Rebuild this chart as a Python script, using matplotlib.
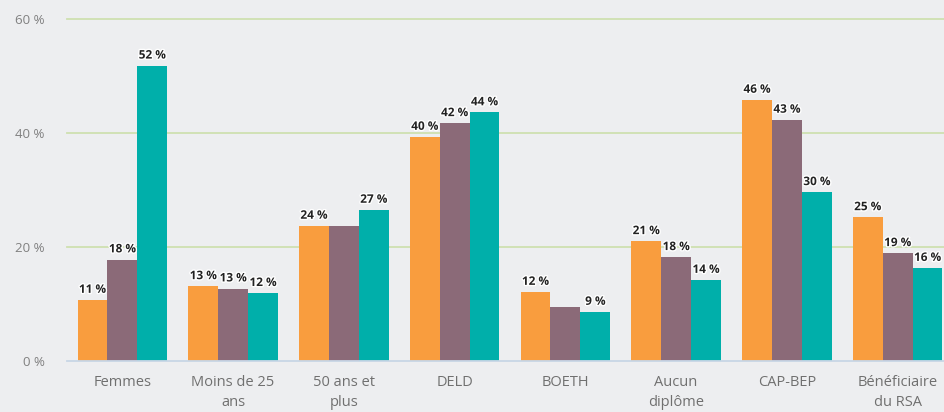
import matplotlib
matplotlib.use("Agg")
import matplotlib.pyplot as plt
import matplotlib.patheffects as pe
import numpy as np

categories = ["Femmes", "Moins de 25\nans", "50 ans et\nplus", "DELD", "BOETH",
              "Aucun\ndiplôme", "CAP-BEP", "Bénéficiaire\ndu RSA"]
serie_orange = [10.7, 13.1, 23.7, 39.3, 12.1, 21.0, 45.8, 25.2]
serie_mauve = [17.8, 12.7, 23.7, 41.7, 9.4, 18.2, 42.3, 18.9]
serie_teal = [51.8, 11.9, 26.5, 43.6, 8.6, 14.2, 29.6, 16.3]
labels_orange = ["11 %", "13 %", "24 %", "40 %", "12 %", "21 %", "46 %", "25 %"]
labels_mauve = ["18 %", "13 %", "", "42 %", "", "18 %", "43 %", "19 %"]
labels_teal = ["52 %", "12 %", "27 %", "44 %", "9 %", "14 %", "30 %", "16 %"]
yticks = [0, 20, 40, 60]
ytick_labels = ["0 %", "20 %", "40 %", "60 %"]

colors = ["#F99D3E", "#8B6A78", "#00AFAA"]
bg = "#EDEEF0"
fam = ["Open Sans", "DejaVu Sans"]

fig = plt.figure(figsize=(9.45, 4.12), dpi=100, facecolor=bg)
ax = fig.add_axes([67/945, 1-361/412, 1-67/945, (361-19)/412])
ax.set_facecolor(bg)

x = np.arange(len(categories))
w = 0.27
series = [serie_orange, serie_mauve, serie_teal]
labels = [labels_orange, labels_mauve, labels_teal]
for i, (vals, labs) in enumerate(zip(series, labels)):
    xs = x + (i - 1) * w
    ax.bar(xs, vals, width=w, color=colors[i], zorder=3, linewidth=0)
    for xi, v, lab in zip(xs, vals, labs):
        if lab:
            t = ax.annotate(lab, (xi, v), xytext=(0, 3), textcoords="offset points",
                            ha="center", va="bottom", fontsize=8.5, fontweight="bold",
                            color="#222222", family=fam, zorder=5)
            t.set_path_effects([pe.withStroke(linewidth=2, foreground="white")])

ax.set_ylim(0, 60)
ax.set_xlim(-0.5, (945 - 122) / 110.8)
ax.set_yticks(yticks)
ax.set_yticklabels(ytick_labels, family=fam, fontsize=9.5, color="#808080")
ax.set_xticks(x)
ax.set_xticklabels(categories, family=fam, fontsize=10.5, color="#707070",
                   linespacing=1.45)
ax.tick_params(axis="both", length=0)
ax.tick_params(axis="y", pad=16)
ax.tick_params(axis="x", pad=10)
for s in ax.spines.values():
    s.set_visible(False)
for yv in yticks[1:]:
    ax.axhline(yv, color="#CFE0B0", linewidth=1.3, zorder=1, clip_on=False)
ax.axhline(0, color="#C8D6E6", linewidth=1.3, zorder=4, clip_on=False)

fig.savefig("out.png", dpi=100, facecolor=bg)
